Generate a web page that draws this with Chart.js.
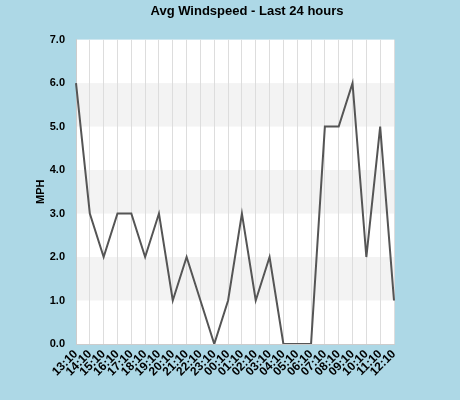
<!DOCTYPE html>
<html>
<head>
<meta charset="utf-8">
<script src="https://cdn.jsdelivr.net/npm/chart.js@4/dist/chart.umd.min.js"></script>
<style>
  html, body { margin: 0; padding: 0; background: #add8e6; }
  #wrap { width: 460px; height: 400px; }
</style>
</head>
<body>
<div id="wrap"><canvas id="windChart" width="460" height="400"></canvas></div>
<script>
  const hours = ["13:10","14:10","15:10","16:10","17:10","18:10","19:10","20:10","21:10","22:10","23:10","00:10",
                 "01:10","02:10","03:10","04:10","05:10","06:10","07:10","08:10","09:10","10:10","11:10","12:10"];
  const windMph = [6, 3, 2, 3, 3, 2, 3, 1, 2, 1, 0, 1, 3, 1, 2, 0, 0, 0, 5, 5, 6, 2, 5, 1];

  // white plot area with grey bands between 1-2, 3-4, 5-6
  const bandsPlugin = {
    id: 'bands',
    beforeDraw(chart) {
      const { ctx, chartArea: a, scales: { y } } = chart;
      ctx.save();
      ctx.fillStyle = '#ffffff';
      ctx.fillRect(a.left, a.top, a.right - a.left, a.bottom - a.top);
      ctx.fillStyle = '#f3f3f3';
      [1, 3, 5].forEach(v => {
        const top = y.getPixelForValue(v + 1), bot = y.getPixelForValue(v);
        ctx.fillRect(a.left, top, a.right - a.left, bot - top);
      });
      ctx.restore();
    }
  };

  const boldFont = { family: 'Liberation Sans', size: 11, weight: 'bold' };

  new Chart(document.getElementById('windChart'), {
    type: 'line',
    data: {
      labels: hours,
      datasets: [{
        data: windMph,
        borderColor: '#555555',
        borderWidth: 2,
        pointRadius: 0,
        tension: 0
      }]
    },
    options: {
      responsive: false,
      animation: false,
      layout: { padding: { left: 34, right: 0, top: 4, bottom: 0 } },
      plugins: {
        legend: { display: false },
        tooltip: { enabled: false },
        title: {
          display: true,
          text: 'Avg Windspeed - Last 24 hours',
          color: '#000',
          font: { family: 'Liberation Sans', size: 13, weight: 'bold' },
          padding: { top: 0, bottom: 20 }
        }
      },
      scales: {
        x: {
          offset: false,
          grid: { color: '#dddddd', drawTicks: false },
          border: { color: '#cccccc' },
          ticks: {
            color: '#000',
            maxRotation: 45, minRotation: 45, autoSkip: false,
            font: { family: 'Liberation Sans', size: 12, weight: 'bold' }
          },
          afterFit(s) { s.height = 56; }
        },
        y: {
          min: 0, max: 7,
          grid: { display: false },
          border: { color: '#cccccc' },
          ticks: {
            stepSize: 1, color: '#000',
            callback: v => v.toFixed(1),
            font: boldFont
          },
          title: { display: true, text: 'MPH', color: '#000', font: boldFont, padding: 0 },
          afterFit(s) { s.width = 42; }
        },
        yRight: {
          position: 'right',
          min: 0, max: 7,
          grid: { display: false },
          border: { display: false },
          ticks: { display: false },
          afterFit(s) { s.width = 66; }
        }
      }
    },
    plugins: [bandsPlugin]
  });
</script>
</body>
</html>
